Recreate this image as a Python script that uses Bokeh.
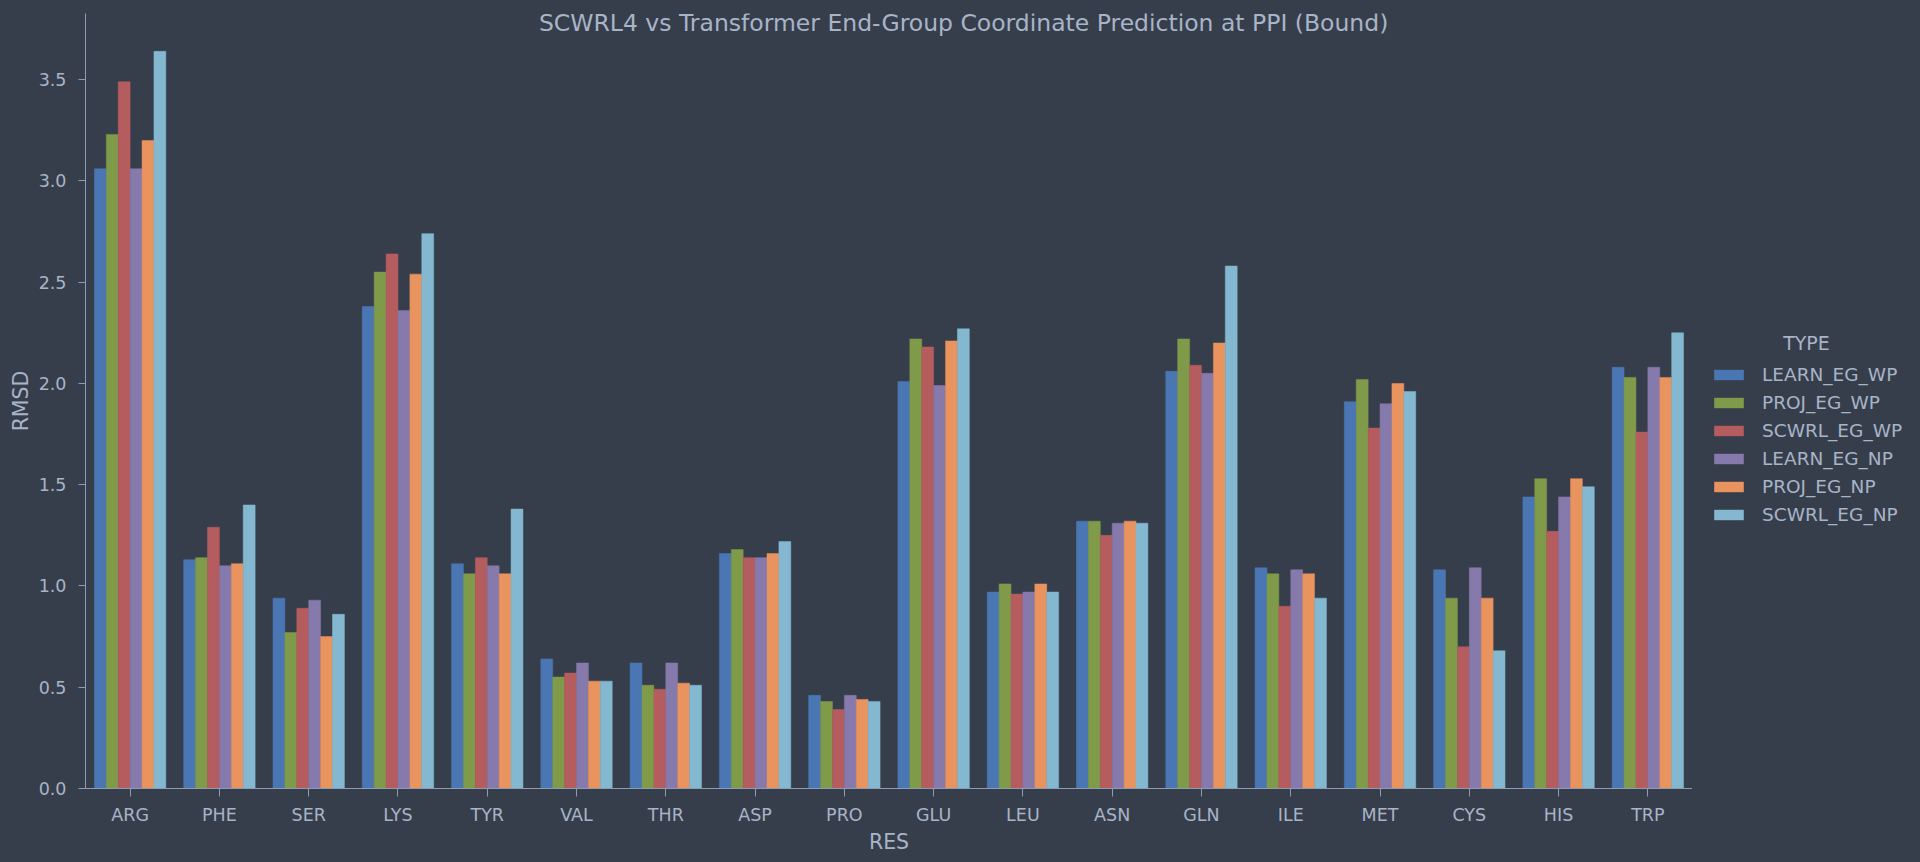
from bokeh.plotting import figure
from bokeh.layouts import row
from bokeh.models import (FactorRange, Range1d, Legend, LegendItem, Label,
                          SingleIntervalTicker, NumeralTickFormatter, ColumnDataSource)
from bokeh.transform import dodge
from bokeh.embed import file_html
from bokeh.resources import INLINE

residues = ["ARG", "PHE", "SER", "LYS", "TYR", "VAL", "THR", "ASP", "PRO",
            "GLU", "LEU", "ASN", "GLN", "ILE", "MET", "CYS", "HIS", "TRP"]
types = ["LEARN_EG_WP", "PROJ_EG_WP", "SCWRL_EG_WP",
         "LEARN_EG_NP", "PROJ_EG_NP", "SCWRL_EG_NP"]

LEARN_EG_WP = [3.06, 1.13, 0.94, 2.38, 1.11, 0.64, 0.62, 1.16, 0.46, 2.01, 0.97, 1.32, 2.06, 1.09, 1.91, 1.08, 1.44, 2.08]
PROJ_EG_WP  = [3.23, 1.14, 0.77, 2.55, 1.06, 0.55, 0.51, 1.18, 0.43, 2.22, 1.01, 1.32, 2.22, 1.06, 2.02, 0.94, 1.53, 2.03]
SCWRL_EG_WP = [3.49, 1.29, 0.89, 2.64, 1.14, 0.57, 0.49, 1.14, 0.39, 2.18, 0.96, 1.25, 2.09, 0.90, 1.78, 0.70, 1.27, 1.76]
LEARN_EG_NP = [3.06, 1.10, 0.93, 2.36, 1.10, 0.62, 0.62, 1.14, 0.46, 1.99, 0.97, 1.31, 2.05, 1.08, 1.90, 1.09, 1.44, 2.08]
PROJ_EG_NP  = [3.20, 1.11, 0.75, 2.54, 1.06, 0.53, 0.52, 1.16, 0.44, 2.21, 1.01, 1.32, 2.20, 1.06, 2.00, 0.94, 1.53, 2.03]
SCWRL_EG_NP = [3.64, 1.40, 0.86, 2.74, 1.38, 0.53, 0.51, 1.22, 0.43, 2.27, 0.97, 1.31, 2.58, 0.94, 1.96, 0.68, 1.49, 2.25]

colors = ["#4a77b4", "#7f9b4a", "#b55c5f", "#8679ac", "#e9935f", "#83b8d0"]

BG = "#373e4b"
TXT = "#a8b4c8"
AX = "#8d9cb3"
FONT = "DejaVu Sans"

src = ColumnDataSource(dict(RES=residues, LEARN_EG_WP=LEARN_EG_WP, PROJ_EG_WP=PROJ_EG_WP,
                            SCWRL_EG_WP=SCWRL_EG_WP, LEARN_EG_NP=LEARN_EG_NP,
                            PROJ_EG_NP=PROJ_EG_NP, SCWRL_EG_NP=SCWRL_EG_NP))

p = figure(width=1692, height=862, x_range=FactorRange(*residues),
           y_range=Range1d(0, 3.827), output_backend="svg", toolbar_location=None,
           title=None, background_fill_color=BG, border_fill_color=BG,
           outline_line_color=None, min_border_left=85, min_border_top=13,
           min_border_right=0, min_border_bottom=74)
p.xgrid.visible = False
p.ygrid.visible = False

n = len(types)
bw = 0.8 / n
for i, t in enumerate(types):
    off = -0.4 + bw * (i + 0.5)
    p.vbar(x=dodge("RES", off, range=p.x_range), top=t, width=bw, source=src,
           fill_color=colors[i], line_color=colors[i], line_width=0.5)

for ax in (p.xaxis[0], p.yaxis[0]):
    ax.axis_line_color = AX
    ax.major_tick_line_color = AX
    ax.major_tick_in = 0
    ax.minor_tick_line_color = None
    ax.major_label_text_color = TXT
    ax.major_label_text_font = FONT
    ax.major_label_text_font_size = "17.5px"
    ax.axis_label_text_color = TXT
    ax.axis_label_text_font = FONT
    ax.axis_label_text_font_size = "20.5px"
    ax.axis_label_text_font_style = "normal"

p.xaxis.axis_label = "RES"
p.xaxis.major_tick_out = 8
p.xaxis.major_label_standoff = 8
p.xaxis.axis_label_standoff = 2

p.yaxis.axis_label = "RMSD"
p.yaxis.ticker = SingleIntervalTicker(interval=0.5)
p.yaxis.formatter = NumeralTickFormatter(format="0.0")
p.yaxis.major_tick_out = 7
p.yaxis.major_label_standoff = 12
p.yaxis.axis_label_standoff = 3

p.add_layout(Label(x=9.836, y=3.781,
                   text="SCWRL4 vs Transformer End-Group Coordinate Prediction at PPI (Bound)",
                   text_align="center", text_baseline="middle", text_color=TXT,
                   text_font=FONT, text_font_size="23.5px"))

# legend panel (separate canvas so the legend is not clipped by the bar frame)
q = figure(width=228, height=862, x_range=Range1d(0, 1), y_range=Range1d(0, 1),
           output_backend="svg", toolbar_location=None, title=None,
           background_fill_color=BG, border_fill_color=BG, outline_line_color=None,
           min_border=0)
q.axis.visible = False
q.grid.visible = False
items = []
for i, t in enumerate(types):
    # zero-size proxy glyph: only supplies the legend swatch style
    proxy = q.vbar(x=[0.5], top=[0], bottom=[0], width=0, fill_color=colors[i],
                   line_color=colors[i], line_alpha=0.0)
    items.append(LegendItem(label=t, renderers=[proxy]))

legend = Legend(items=items, location=(18, 263), orientation="vertical",
                background_fill_alpha=0, border_line_color=None,
                label_text_color=TXT, label_text_font=FONT, label_text_font_size="18.5px",
                glyph_width=37, glyph_height=13, label_standoff=15, spacing=7,
                label_height=21, padding=10, margin=0)
q.add_layout(legend)
q.add_layout(Label(x=0.5, y=0.5754, text="TYPE", text_align="center",
                   text_baseline="middle", text_color=TXT, text_font=FONT,
                   text_font_size="19px"))

layout = row(p, q, spacing=0)
html = file_html(layout, INLINE)
html = html.replace("<head>", "<head><style>html,body{background:%s;margin:0;overflow:hidden;}</style>" % BG, 1)
open("out.html", "w").write(html)
